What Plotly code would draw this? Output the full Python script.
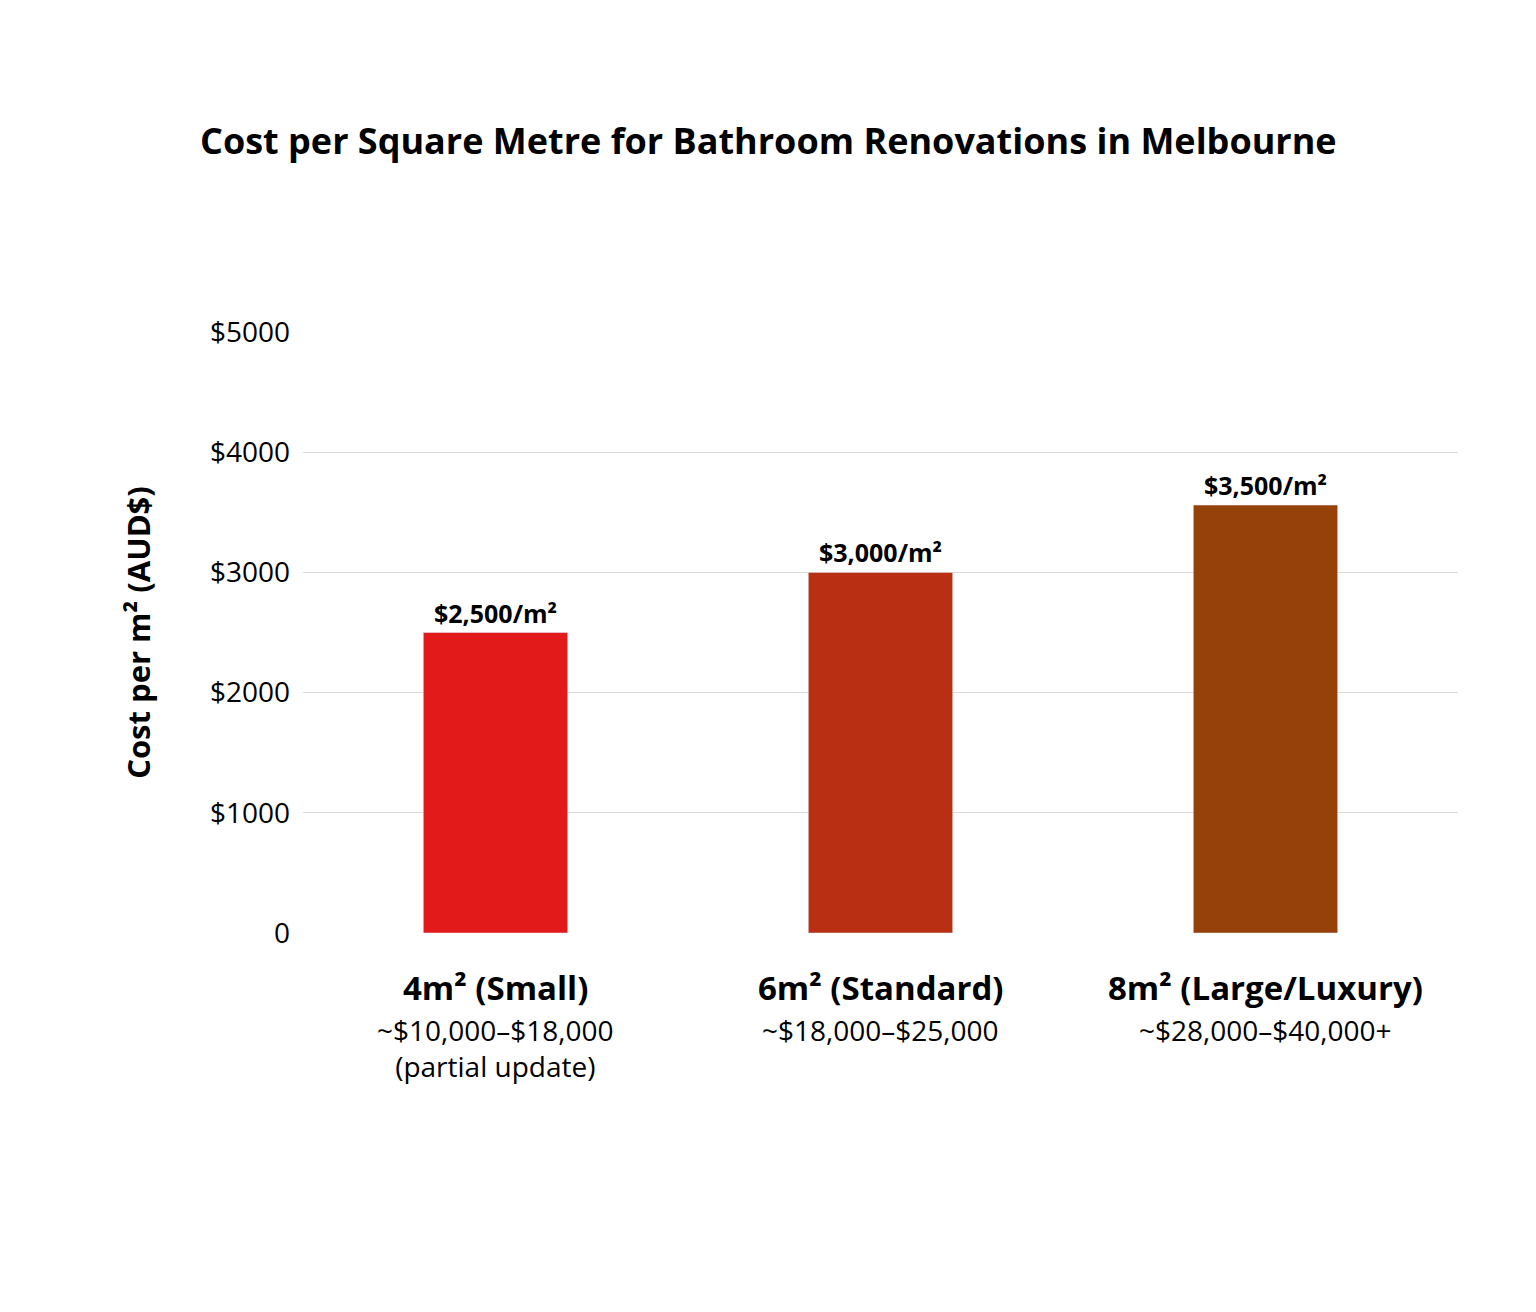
import plotly.graph_objects as go

categories = ["4m² (Small)", "6m² (Standard)", "8m² (Large/Luxury)"]
sub_lines = [["~$10,000–$18,000", "(partial update)"], ["~$18,000–$25,000"], ["~$28,000–$40,000+"]]
cost_per_m2 = [2500, 3000, 3560]
value_labels = ["$2,500/m²", "$3,000/m²", "$3,500/m²"]
bar_colors = ["#e21a1a", "#b92f14", "#96400a"]
tick_vals = [0, 1000, 2000, 3000, 4000, 5000]
tick_text = ["0", "$1000", "$2000", "$3000", "$4000", "$5000"]

font = "Open Sans"
fig = go.Figure(go.Bar(
    x=categories, y=cost_per_m2, marker_color=bar_colors, width=0.375,
    text=["<b>" + t + "</b>" for t in value_labels], textposition="outside",
    textfont=dict(size=25, color="black", family=font), cliponaxis=False,
))

for cat, subs in zip(categories, sub_lines):
    fig.add_annotation(x=cat, y=0, yref="y", yshift=-30, text="<b>" + cat + "</b>",
                       showarrow=False, yanchor="top", font=dict(size=33, family=font, color="black"))
    fig.add_annotation(x=cat, y=0, yref="y", yshift=-76, text="<br>".join(subs),
                       showarrow=False, yanchor="top", font=dict(size=28, family=font, color="black"))

fig.update_layout(
    width=1536, height=1312, plot_bgcolor="white", paper_bgcolor="white",
    margin=dict(l=295, r=86, t=324, b=387),
    title=dict(text="<b>Cost per Square Metre for Bathroom Renovations in Melbourne</b>",
               x=0.495, xanchor="center", y=0.898, yanchor="middle",
               font=dict(size=36, family=font, color="black")),
    showlegend=False, bargap=0.6,
)
fig.update_xaxes(showticklabels=False, showline=False)
fig.update_yaxes(range=[0, 5000], tickvals=tick_vals, ticktext=tick_text,
                 gridcolor="#d9d9d9", zeroline=False,
                 tickfont=dict(size=28, family=font, color="black"), ticklabelstandoff=12,
                 title=dict(text="<b>Cost per m² (AUD$)</b>", standoff=50,
                            font=dict(size=31, family=font, color="black")))
fig.write_html("out.html")
